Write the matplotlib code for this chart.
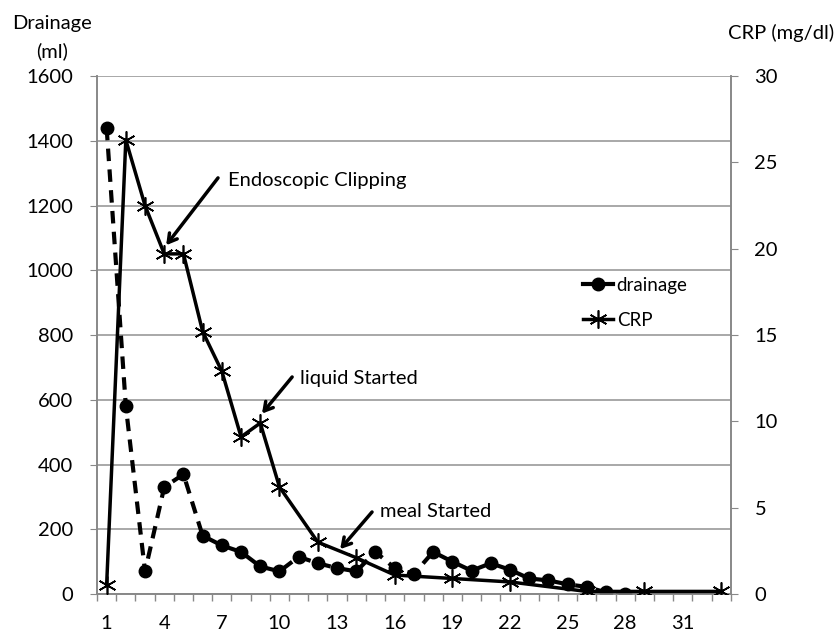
import numpy as np
import matplotlib.pyplot as plt

plt.rcParams['font.family'] = ['Lato', 'DejaVu Sans']

days = np.arange(1, 34)

# drainage (ml), days 1-28
drainage = [1440, 580, 70, 330, 370, 180, 150, 130, 85, 70,
            115, 95, 80, 70, 130, 80, 62, 130, 100, 72,
            95, 75, 48, 42, 30, 22, 5, 0]

# CRP (mg/dl), measured days only
crp_days = [1, 2, 3, 4, 5, 6, 7, 8, 9, 10, 12, 14, 16, 19, 22, 26, 29, 33]
crp = [0.5, 26.3, 22.5, 19.7, 19.7, 15.2, 12.9, 9.1, 9.9, 6.2,
       3.0, 2.1, 1.1, 0.9, 0.7, 0.15, 0.15, 0.15]

xtick_labels = [str(d) for d in range(1, 32, 3)]

fig = plt.figure(figsize=(8.4, 6.32), dpi=100)
ax = fig.add_axes([0.1155, 0.0601, 0.7545, 0.8196])
ax2 = ax.twinx()

ax.set_xlim(0.5, 33.5)
ax.set_ylim(0, 1600)
ax2.set_ylim(0, 30)

ax.set_yticks(range(0, 1601, 200))
ax2.set_yticks(range(0, 31, 5))
ax.set_xticks(range(1, 32, 3))
ax.set_xticklabels(xtick_labels)
ax.set_xticks(np.arange(0.5, 34, 1), minor=True)
ax.tick_params(axis='x', which='major', length=0, labelsize=14.5, pad=15)
ax.tick_params(axis='x', which='minor', length=5, color='#888888', width=1)
ax.tick_params(axis='y', labelsize=14.5, length=5, color='#888888', pad=12)
ax2.tick_params(axis='y', labelsize=14.5, length=5, color='#888888', pad=12)

ax.grid(axis='y', color='#999999', linewidth=1.2)
ax.set_axisbelow(True)
for a in (ax, ax2):
    a.spines['top'].set_visible(False)
    for s in ('left', 'right', 'bottom'):
        a.spines[s].set_color('#888888')
        a.spines[s].set_linewidth(1.2)

d_line, = ax.plot(days[:len(drainage)], drainage, color='black', linestyle=(0, (3, 2)),
                  linewidth=3, marker='o', markersize=9, label='drainage', zorder=3)
c_line, = ax2.plot(crp_days, crp, color='black', linewidth=2.5,
                   marker=(6, 2, 0), markersize=13, markeredgewidth=1.2, label='CRP', zorder=3)

leg = ax2.legend([d_line, c_line], ['drainage', 'CRP'], loc='upper left',
                 bbox_to_anchor=(0.74, 0.645), frameon=False, fontsize=13.5,
                 handlelength=1.6, handletextpad=0.2, labelspacing=0.95)
leg.legend_handles[0].set_linestyle('-')

# annotations: text, arrow tail, arrow head (x in days, y in CRP units)
notes = [('Endoscopic Clipping', (7.32, 23.95), (6.8, 24.1), (4.1, 20.2)),
         ('liquid Started', (11.07, 12.5), (10.66, 12.57), (9.09, 10.45)),
         ('meal Started', (15.24, 4.8), (14.82, 4.75), (13.16, 2.6))]
for label, txt, tail, head in notes:
    ax2.text(txt[0], txt[1], label, fontsize=14.5, va='center', ha='left')
    ax2.annotate('', xy=head, xytext=tail,
                 arrowprops=dict(arrowstyle='->, head_length=0.6, head_width=0.35',
                                 color='black', lw=2.5, shrinkA=0, shrinkB=0))

fig.text(52 / 840, 1 - 24 / 632, 'Drainage', ha='center', va='center', fontsize=14.5)
fig.text(52 / 840, 1 - 51 / 632, '(ml)', ha='center', va='center', fontsize=14.5)
fig.text(781 / 840, 1 - 33 / 632, 'CRP (mg/dl)', ha='center', va='center', fontsize=14.5)

fig.savefig('out.png', dpi=100, facecolor='white')
